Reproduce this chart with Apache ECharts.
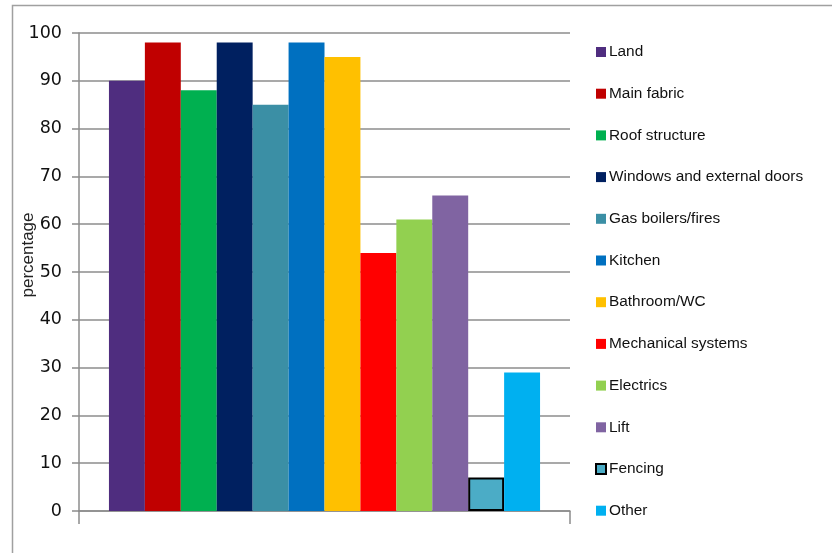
<!DOCTYPE html>
<html>
<head>
<meta charset="utf-8">
<script src="https://cdn.jsdelivr.net/npm/echarts@6/dist/echarts.min.js"></script>
<style>
html,body{margin:0;padding:0;background:#fff;}
#chart{width:832px;height:553px;}
</style>
</head>
<body>
<div id="chart"></div>
<script>
const categories = [''];
const seriesNames = ['Land','Main fabric','Roof structure','Windows and external doors','Gas boilers/fires','Kitchen','Bathroom/WC','Mechanical systems','Electrics','Lift','Fencing','Other'];
const seriesValues = [90, 98, 88, 98, 85, 98, 95, 54, 61, 66, 7, 29];
const seriesColors = ['#4F2D7F','#C00000','#00B050','#002060','#3B8FA5','#0070C0','#FFC000','#FF0000','#92D050','#8064A2','#4BACC6','#00B0F0'];
const yTicks = [0,10,20,30,40,50,60,70,80,90,100];
const yAxisTitle = 'percentage';

const chart = echarts.init(document.getElementById('chart'));
const series = seriesNames.map((n, i) => ({
  name: n,
  type: 'bar',
  data: [seriesValues[i]],
  barGap: '0%',
  barCategoryGap: '12.2%',
  itemStyle: n === 'Fencing'
    ? {color: seriesColors[i], borderColor: '#000', borderWidth: 2}
    : {color: seriesColors[i]},
  emphasis: {disabled: true}
}));

chart.setOption({
  animation: false,
  color: seriesColors,
  grid: {left: 79, right: 262, top: 33, bottom: 42, containLabel: false},
  graphic: [{
    type: 'rect', left: 10, top: 3,
    shape: {width: 900, height: 600},
    style: {fill: 'none', stroke: '#a0a0a0', lineWidth: 1.5},
    silent: true
  }, {
    type: 'text', x: 28, y: 255, rotation: Math.PI / 2,
    style: {text: yAxisTitle, fill: '#222', font: '17px "Liberation Sans"', align: 'center', verticalAlign: 'middle'},
    silent: true
  }],
  legend: {
    orient: 'vertical',
    left: 590, top: 38,
    itemWidth: 10, itemHeight: 10,
    itemGap: 23.7,
    icon: 'rect',
    selectedMode: false,
    textStyle: {fontFamily: '"Liberation Sans"', fontSize: 15.4, color: '#111', lineHeight: 18, padding: [0,0,0,-2]},
    data: seriesNames
  },
  xAxis: {
    type: 'category',
    data: categories,
    axisLine: {lineStyle: {color: '#8c8c8c', width: 1.5}},
    axisTick: {show: true, length: 13, lineStyle: {color: '#8c8c8c', width: 1.5}},
    axisLabel: {show: false}
  },
  yAxis: {
    type: 'value',
    min: yTicks[0], max: yTicks[yTicks.length-1], interval: 10,
    axisLine: {show: true, lineStyle: {color: '#8c8c8c', width: 1.5}},
    axisTick: {show: true, length: 7, lineStyle: {color: '#8c8c8c', width: 1.5}},
    axisLabel: {fontFamily: 'DejaVu Sans', fontSize: 17.5, color: '#111', margin: 17},
    splitLine: {lineStyle: {color: '#8c8c8c', width: 1.5}}
  },
  series: series
});
</script>
</body>
</html>
